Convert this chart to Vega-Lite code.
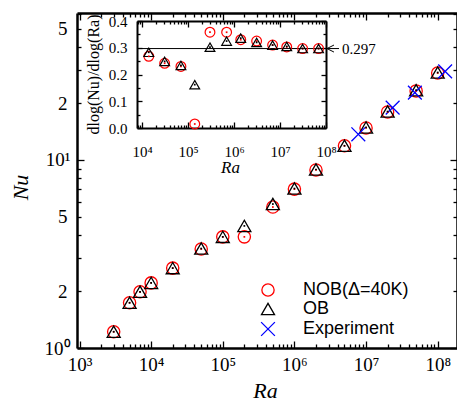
{
  "$schema": "https://vega.github.io/schema/vega-lite/v6.json",
  "width": 380,
  "height": 335,
  "autosize": "none",
  "padding": {"left": 77, "top": 13, "right": 0, "bottom": 56},
  "background": "white",
  "datasets": {
    "main": [
      {"Ra": 3000, "Nu": 1.22, "series": "NOB(Δ=40K)"},
      {"Ra": 5000, "Nu": 1.74, "series": "NOB(Δ=40K)"},
      {"Ra": 7000, "Nu": 1.99, "series": "NOB(Δ=40K)"},
      {"Ra": 10000, "Nu": 2.22, "series": "NOB(Δ=40K)"},
      {"Ra": 20000, "Nu": 2.66, "series": "NOB(Δ=40K)"},
      {"Ra": 50000, "Nu": 3.36, "series": "NOB(Δ=40K)"},
      {"Ra": 100000, "Nu": 3.9, "series": "NOB(Δ=40K)"},
      {"Ra": 200000, "Nu": 3.9, "series": "NOB(Δ=40K)"},
      {"Ra": 500000, "Nu": 5.62, "series": "NOB(Δ=40K)"},
      {"Ra": 1000000, "Nu": 7.0, "series": "NOB(Δ=40K)"},
      {"Ra": 2000000, "Nu": 8.85, "series": "NOB(Δ=40K)"},
      {"Ra": 5000000, "Nu": 11.9, "series": "NOB(Δ=40K)"},
      {"Ra": 10000000, "Nu": 14.8, "series": "NOB(Δ=40K)"},
      {"Ra": 20000000, "Nu": 18.0, "series": "NOB(Δ=40K)"},
      {"Ra": 50000000, "Nu": 23.3, "series": "NOB(Δ=40K)"},
      {"Ra": 100000000, "Nu": 29.0, "series": "NOB(Δ=40K)"},
      {"Ra": 3000, "Nu": 1.22, "series": "OB"},
      {"Ra": 5000, "Nu": 1.74, "series": "OB"},
      {"Ra": 7000, "Nu": 1.99, "series": "OB"},
      {"Ra": 10000, "Nu": 2.22, "series": "OB"},
      {"Ra": 20000, "Nu": 2.66, "series": "OB"},
      {"Ra": 50000, "Nu": 3.38, "series": "OB"},
      {"Ra": 100000, "Nu": 3.9, "series": "OB"},
      {"Ra": 200000, "Nu": 4.46, "series": "OB"},
      {"Ra": 500000, "Nu": 5.83, "series": "OB"},
      {"Ra": 1000000, "Nu": 7.05, "series": "OB"},
      {"Ra": 2000000, "Nu": 8.9, "series": "OB"},
      {"Ra": 5000000, "Nu": 11.9, "series": "OB"},
      {"Ra": 10000000, "Nu": 14.9, "series": "OB"},
      {"Ra": 20000000, "Nu": 18.1, "series": "OB"},
      {"Ra": 50000000, "Nu": 23.5, "series": "OB"},
      {"Ra": 100000000, "Nu": 29.2, "series": "OB"},
      {"Ra": 7800000, "Nu": 13.7, "series": "Experiment"},
      {"Ra": 23500000, "Nu": 19.0, "series": "Experiment"},
      {"Ra": 48000000, "Nu": 22.8, "series": "Experiment"},
      {"Ra": 127000000, "Nu": 29.6, "series": "Experiment"}
    ],
    "inset": [
      {"Ra": 14000, "slope": 0.268, "series": "NOB(Δ=40K)"},
      {"Ra": 31000, "slope": 0.242, "series": "NOB(Δ=40K)"},
      {"Ra": 70000, "slope": 0.23, "series": "NOB(Δ=40K)"},
      {"Ra": 140000, "slope": 0.015, "series": "NOB(Δ=40K)"},
      {"Ra": 300000, "slope": 0.358, "series": "NOB(Δ=40K)"},
      {"Ra": 690000, "slope": 0.358, "series": "NOB(Δ=40K)"},
      {"Ra": 1400000, "slope": 0.33, "series": "NOB(Δ=40K)"},
      {"Ra": 3100000, "slope": 0.325, "series": "NOB(Δ=40K)"},
      {"Ra": 6900000, "slope": 0.31, "series": "NOB(Δ=40K)"},
      {"Ra": 14000000, "slope": 0.303, "series": "NOB(Δ=40K)"},
      {"Ra": 31000000, "slope": 0.297, "series": "NOB(Δ=40K)"},
      {"Ra": 69000000, "slope": 0.297, "series": "NOB(Δ=40K)"},
      {"Ra": 14000, "slope": 0.283, "series": "OB"},
      {"Ra": 31000, "slope": 0.249, "series": "OB"},
      {"Ra": 70000, "slope": 0.234, "series": "OB"},
      {"Ra": 140000, "slope": 0.162, "series": "OB"},
      {"Ra": 300000, "slope": 0.302, "series": "OB"},
      {"Ra": 690000, "slope": 0.325, "series": "OB"},
      {"Ra": 1400000, "slope": 0.336, "series": "OB"},
      {"Ra": 3100000, "slope": 0.32, "series": "OB"},
      {"Ra": 6900000, "slope": 0.31, "series": "OB"},
      {"Ra": 14000000, "slope": 0.305, "series": "OB"},
      {"Ra": 31000000, "slope": 0.297, "series": "OB"},
      {"Ra": 69000000, "slope": 0.297, "series": "OB"}
    ]
  },
  "resolve": {
    "scale": {"x": "independent", "y": "independent"},
    "axis": {"x": "independent", "y": "independent"}
  },
  "layer": [
    {
      "data": {"name": "main"},
      "mark": {"type": "point", "filled": false, "strokeWidth": 1.3, "opacity": 1},
      "encoding": {
        "x": {
          "field": "Ra", "type": "quantitative",
          "scale": {"type": "log", "domain": [922.5, 186000000], "nice": false},
          "axis": {
            "orient": "bottom",
            "values": [1000,2000,3000,4000,5000,6000,7000,8000,9000,10000,20000,30000,40000,50000,60000,70000,80000,90000,100000,200000,300000,400000,500000,600000,700000,800000,900000,1000000,2000000,3000000,4000000,5000000,6000000,7000000,8000000,9000000,10000000,20000000,30000000,40000000,50000000,60000000,70000000,80000000,90000000,100000000],
            "labelExpr": "datum.value==1000?'10³':datum.value==10000?'10⁴':datum.value==100000?'10⁵':datum.value==1000000?'10⁶':datum.value==10000000?'10⁷':datum.value==100000000?'10⁸':''",
            "tickSize": {"condition": {"test": "datum.value==1000||datum.value==10000||datum.value==100000||datum.value==1000000||datum.value==10000000||datum.value==100000000", "value": -7}, "value": -4},
            "labelFontSize": 19,
            "labelPadding": 14,
            "title": "Ra",
            "titleFontSize": 22,
            "titleFontStyle": "italic",
            "titleX": 188,
            "titleY": 42,
            "titleBaseline": "middle",
            "titleAlign": "center",
            "titleAnchor": null
          }
        },
        "y": {
          "field": "Nu", "type": "quantitative",
          "scale": {"type": "log", "domain": [1, 60.5], "nice": false},
          "axis": {
            "orient": "left",
            "values": [1,2,3,4,5,6,7,8,9,10,20,30,40,50,60],
            "labelExpr": "datum.value==1?'10⁰':datum.value==2?'2':datum.value==5?'5':datum.value==10?'10¹':datum.value==20?'2':datum.value==50?'5':''",
            "tickSize": {"condition": {"test": "datum.value==1||datum.value==10", "value": -7}, "value": -4},
            "labelFontSize": 19,
            "labelPadding": 14,
            "title": "Nu",
            "titleFontSize": 22,
            "titleFontStyle": "italic",
            "titleX": -57,
            "titleY": 174,
            "titleAngle": -90,
            "titleBaseline": "middle",
            "titleAlign": "center",
            "titleAnchor": null
          }
        },
        "color": {
          "field": "series", "type": "nominal",
          "scale": {"domain": ["NOB(Δ=40K)", "OB", "Experiment"], "range": ["#ff0000", "#000000", "#0000ff"]},
          "legend": {
            "orient": "none",
            "legendX": 182,
            "legendY": 268,
            "title": null,
            "labelFont": "Liberation Sans",
            "labelFontSize": 18,
            "labelOffset": 26,
            "labelLimit": 300,
            "rowPadding": 1,
            "symbolStrokeWidth": 1.3,
            "encode": {"labels": {"update": {"fill": {"signal": "datum.label === 'OB' ? '#000000' : datum.label === 'Experiment' ? '#0000ff' : '#ff0000'"}}}}
          }
        },
        "shape": {
          "field": "series", "type": "nominal",
          "scale": {"domain": ["NOB(Δ=40K)", "OB", "Experiment"], "range": ["circle", "triangle-up", "M-1,-1L1,1M-1,1L1,-1"]}
        },
        "size": {
          "field": "series", "type": "ordinal",
          "scale": {"domain": ["NOB(Δ=40K)", "OB", "Experiment"], "range": [150, 190, 360]}
        }
      }
    },
    {
      "data": {"name": "main"},
      "transform": [{"filter": "datum.series !== 'Experiment'"}],
      "mark": {"type": "point", "filled": true, "shape": "square", "size": 3, "opacity": 1},
      "encoding": {
        "x": {
          "field": "Ra", "type": "quantitative",
          "scale": {"type": "log", "domain": [922.5, 186000000], "nice": false},
          "axis": {
            "orient": "top",
            "values": [1000,2000,3000,4000,5000,6000,7000,8000,9000,10000,20000,30000,40000,50000,60000,70000,80000,90000,100000,200000,300000,400000,500000,600000,700000,800000,900000,1000000,2000000,3000000,4000000,5000000,6000000,7000000,8000000,9000000,10000000,20000000,30000000,40000000,50000000,60000000,70000000,80000000,90000000,100000000],
            "labels": false,
            "tickSize": {"condition": {"test": "datum.value==1000||datum.value==10000||datum.value==100000||datum.value==1000000||datum.value==10000000||datum.value==100000000", "value": -7}, "value": -4},
            "title": null
          }
        },
        "y": {
          "field": "Nu", "type": "quantitative",
          "scale": {"type": "log", "domain": [1, 60.5], "nice": false},
          "axis": {
            "orient": "right",
            "values": [1,2,3,4,5,6,7,8,9,10,20,30,40,50,60],
            "labels": false,
            "tickSize": {"condition": {"test": "datum.value==1||datum.value==10", "value": -7}, "value": -4},
            "title": null
          }
        },
        "fill": {
          "field": "series", "type": "nominal",
          "scale": {"domain": ["NOB(Δ=40K)", "OB"], "range": ["#ff0000", "#000000"]},
          "legend": null
        }
      }
    },
    {
      "data": {"values": [{"slope": 0.297}]},
      "mark": {"type": "rule", "color": "black", "strokeWidth": 1},
      "encoding": {
        "x": {"datum": 7762, "type": "quantitative", "scale": {"type": "log", "domain": [7762, 100000000], "range": [60, 249], "nice": false}, "axis": null},
        "x2": {"datum": 192000000},
        "y": {"field": "slope", "type": "quantitative", "scale": {"domain": [0, 0.4], "range": [115, 8], "nice": false, "zero": false}, "axis": null}
      }
    },
    {
      "data": {"values": [{"slope": 0.297}]},
      "mark": {"type": "point", "shape": "M1,-1L-1,0L1,1", "filled": false, "size": 49, "strokeWidth": 1, "color": "black", "opacity": 1},
      "encoding": {
        "x": {"datum": 125000000, "type": "quantitative", "scale": {"type": "log", "domain": [7762, 100000000], "range": [60, 249], "nice": false}, "axis": null},
        "y": {"field": "slope", "type": "quantitative", "scale": {"domain": [0, 0.4], "range": [115, 8], "nice": false, "zero": false}, "axis": null}
      }
    },
    {
      "data": {"values": [{"slope": 0.297, "label": "0.297"}]},
      "mark": {"type": "text", "align": "left", "baseline": "middle", "font": "Liberation Serif", "fontSize": 15, "color": "black"},
      "encoding": {
        "x": {"datum": 223000000, "type": "quantitative", "scale": {"type": "log", "domain": [7762, 100000000], "range": [60, 249], "nice": false}, "axis": null},
        "y": {"field": "slope", "type": "quantitative", "scale": {"domain": [0, 0.4], "range": [115, 8], "nice": false, "zero": false}, "axis": null},
        "text": {"field": "label"}
      }
    },
    {
      "data": {"name": "inset"},
      "mark": {"type": "point", "filled": false, "strokeWidth": 1.2, "opacity": 1, "size": 95},
      "encoding": {
        "x": {
          "field": "Ra", "type": "quantitative",
          "scale": {"type": "log", "domain": [7762, 100000000], "range": [60, 249], "nice": false},
          "axis": {
            "orient": "bottom",
            "offset": -220,
            "values": [8000,9000,10000,20000,30000,40000,50000,60000,70000,80000,90000,100000,200000,300000,400000,500000,600000,700000,800000,900000,1000000,2000000,3000000,4000000,5000000,6000000,7000000,8000000,9000000,10000000,20000000,30000000,40000000,50000000,60000000,70000000,80000000,90000000,100000000],
            "labelExpr": "datum.value==10000?'10⁴':datum.value==100000?'10⁵':datum.value==1000000?'10⁶':datum.value==10000000?'10⁷':datum.value==100000000?'10⁸':''",
            "tickSize": {"condition": {"test": "datum.value==10000||datum.value==100000||datum.value==1000000||datum.value==10000000||datum.value==100000000", "value": -6}, "value": -3},
            "domainWidth": 2,
            "labelFontSize": 15,
            "labelPadding": 22,
            "title": "Ra",
            "titleFontSize": 17,
            "titleFontStyle": "italic",
            "titleX": 153,
            "titleY": 39,
            "titleBaseline": "middle",
            "titleAlign": "center",
            "titleAnchor": null
          }
        },
        "y": {
          "field": "slope", "type": "quantitative",
          "scale": {"domain": [0, 0.4], "range": [115, 8], "nice": false, "zero": false},
          "axis": {
            "orient": "left",
            "offset": -60,
            "values": [0, 0.05, 0.1, 0.15, 0.2, 0.25, 0.3, 0.35, 0.4],
            "labelExpr": "round(datum.value*100)%10==0 ? format(datum.value, '.1f') : ''",
            "tickSize": {"condition": {"test": "round(datum.value*100)%10==0", "value": -5}, "value": -3},
            "domainWidth": 2,
            "labelFontSize": 15,
            "labelPadding": 15,
            "title": "dlog(Nu)/dlog(Ra)",
            "titleFontSize": 16,
            "titleFontStyle": "normal",
            "titleX": -44,
            "titleY": 61,
            "titleAngle": -90,
            "titleBaseline": "middle",
            "titleAlign": "center",
            "titleAnchor": null
          }
        },
        "color": {"field": "series", "type": "nominal"},
        "shape": {"field": "series", "type": "nominal"}
      }
    },
    {
      "data": {"name": "inset"},
      "mark": {"type": "point", "filled": true, "shape": "square", "size": 3, "opacity": 1},
      "encoding": {
        "x": {
          "field": "Ra", "type": "quantitative",
          "scale": {"type": "log", "domain": [7762, 100000000], "range": [60, 249], "nice": false},
          "axis": {
            "orient": "top",
            "offset": -8,
            "values": [8000,9000,10000,20000,30000,40000,50000,60000,70000,80000,90000,100000,200000,300000,400000,500000,600000,700000,800000,900000,1000000,2000000,3000000,4000000,5000000,6000000,7000000,8000000,9000000,10000000,20000000,30000000,40000000,50000000,60000000,70000000,80000000,90000000,100000000],
            "labels": false,
            "tickSize": {"condition": {"test": "datum.value==10000||datum.value==100000||datum.value==1000000||datum.value==10000000||datum.value==100000000", "value": -6}, "value": -3},
            "domainWidth": 2,
            "title": null
          }
        },
        "y": {
          "field": "slope", "type": "quantitative",
          "scale": {"domain": [0, 0.4], "range": [115, 8], "nice": false, "zero": false},
          "axis": {
            "orient": "right",
            "offset": -131,
            "values": [0, 0.05, 0.1, 0.15, 0.2, 0.25, 0.3, 0.35, 0.4],
            "labels": false,
            "tickSize": {"condition": {"test": "round(datum.value*100)%10==0", "value": -5}, "value": -3},
            "domainWidth": 2,
            "title": null
          }
        },
        "fill": {"field": "series", "type": "nominal", "legend": null}
      }
    }
  ],
  "config": {
    "view": {"stroke": null},
    "axis": {
      "grid": false,
      "domainColor": "black",
      "domainWidth": 2.5,
      "tickColor": "black",
      "tickWidth": 1.3,
      "labelColor": "black",
      "titleColor": "black",
      "labelFont": "Liberation Serif",
      "titleFont": "Liberation Serif",
      "titleFontWeight": "normal",
      "labelOverlap": false,
      "labelFlush": false
    }
  }
}
